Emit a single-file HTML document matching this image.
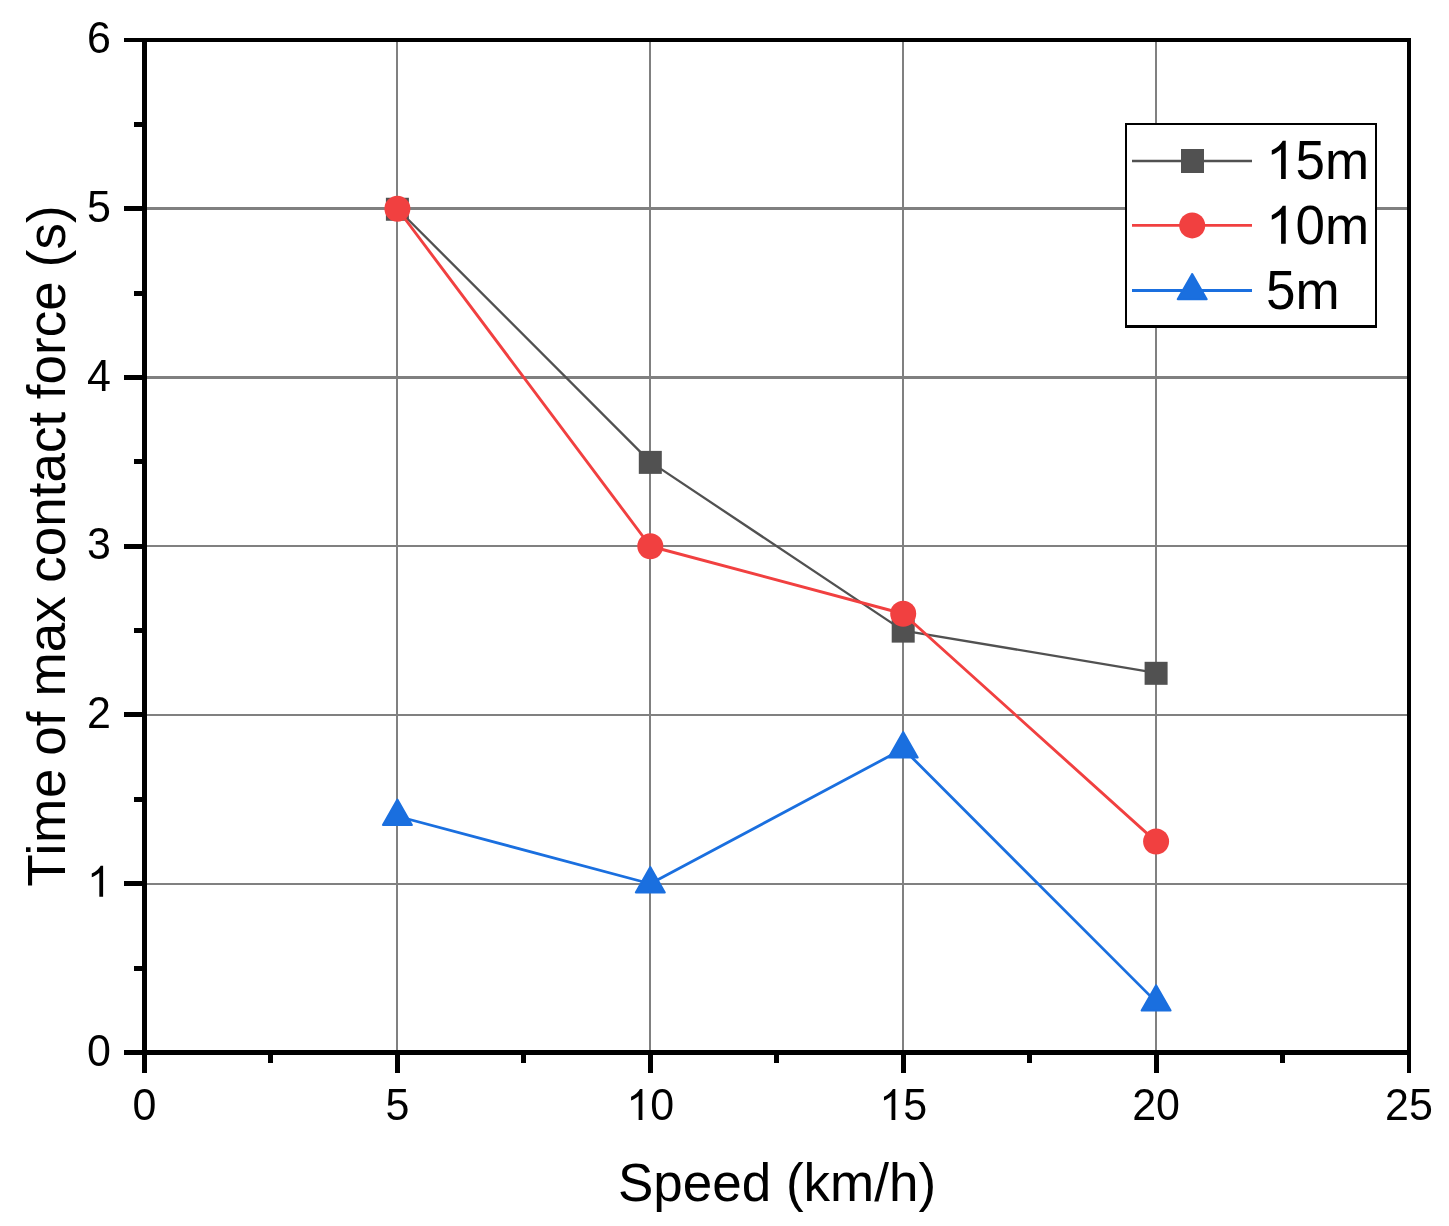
<!DOCTYPE html>
<html><head><meta charset="utf-8"><title>chart</title>
<style>html,body{margin:0;padding:0;background:#fff;}body{width:1449px;height:1226px;overflow:hidden;}svg{display:block;will-change:transform;}text{font-family:"Liberation Sans",sans-serif;fill:#000;}</style>
</head><body>
<svg width="1449" height="1226" viewBox="0 0 1449 1226">
<rect x="0" y="0" width="1449" height="1226" fill="#ffffff"/>
<g fill="#808080" shape-rendering="crispEdges">
<rect x="396" y="42" width="2" height="1008"/>
<rect x="649" y="42" width="2" height="1008"/>
<rect x="902" y="42" width="2" height="1008"/>
<rect x="1155" y="42" width="2" height="1008"/>
<rect x="147" y="207" width="1260" height="3"/>
<rect x="147" y="376" width="1260" height="3"/>
<rect x="147" y="545" width="1260" height="2"/>
<rect x="147" y="714" width="1260" height="2"/>
<rect x="147" y="883" width="1260" height="2"/>
</g>
<polyline points="397.40,208.75 650.30,461.88 903.20,630.62 1156.10,672.81" fill="none" stroke="#515151" stroke-width="2.3" stroke-linejoin="round"/>
<rect x="385.90" y="197.75" width="23" height="23" fill="#515151"/>
<rect x="638.80" y="450.88" width="23" height="23" fill="#515151"/>
<rect x="891.70" y="619.62" width="23" height="23" fill="#515151"/>
<rect x="1144.60" y="661.81" width="23" height="23" fill="#515151"/>
<polyline points="397.40,208.75 650.30,546.25 903.20,613.75 1156.10,841.56" fill="none" stroke="#F14040" stroke-width="2.9" stroke-linejoin="round"/>
<circle cx="397.40" cy="208.75" r="13" fill="#F14040"/>
<circle cx="650.30" cy="546.25" r="13" fill="#F14040"/>
<circle cx="903.20" cy="613.75" r="13" fill="#F14040"/>
<circle cx="1156.10" cy="841.56" r="13" fill="#F14040"/>
<polyline points="397.40,816.25 650.30,883.75 903.20,748.75 1156.10,1001.88" fill="none" stroke="#1A6FDF" stroke-width="2.8" stroke-linejoin="round"/>
<polygon points="397.40,799.60 382.90,824.90 411.90,824.90" fill="#1A6FDF" stroke="#1A6FDF" stroke-width="2" stroke-linejoin="round"/>
<polygon points="650.30,867.10 635.80,892.40 664.80,892.40" fill="#1A6FDF" stroke="#1A6FDF" stroke-width="2" stroke-linejoin="round"/>
<polygon points="903.20,732.10 888.70,757.40 917.70,757.40" fill="#1A6FDF" stroke="#1A6FDF" stroke-width="2" stroke-linejoin="round"/>
<polygon points="1156.10,985.23 1141.60,1010.52 1170.60,1010.52" fill="#1A6FDF" stroke="#1A6FDF" stroke-width="2" stroke-linejoin="round"/>
<g fill="#000" shape-rendering="crispEdges">
<rect x="142" y="38" width="5" height="1017"/>
<rect x="1407" y="38" width="4" height="1035"/>
<rect x="124" y="38" width="1287" height="4"/>
<rect x="124" y="1050" width="1287" height="5"/>
<rect x="142" y="1050" width="5" height="23"/>
<rect x="268" y="1050" width="5" height="13"/>
<rect x="395" y="1050" width="5" height="23"/>
<rect x="521" y="1050" width="5" height="13"/>
<rect x="648" y="1050" width="5" height="23"/>
<rect x="774" y="1050" width="5" height="13"/>
<rect x="901" y="1050" width="5" height="23"/>
<rect x="1027" y="1050" width="5" height="13"/>
<rect x="1154" y="1050" width="5" height="23"/>
<rect x="1280" y="1050" width="5" height="13"/>
<rect x="134" y="966" width="10" height="5"/>
<rect x="124" y="881" width="20" height="5"/>
<rect x="134" y="797" width="10" height="5"/>
<rect x="124" y="712" width="20" height="5"/>
<rect x="134" y="628" width="10" height="5"/>
<rect x="124" y="544" width="20" height="5"/>
<rect x="134" y="459" width="10" height="5"/>
<rect x="124" y="375" width="20" height="5"/>
<rect x="134" y="291" width="10" height="5"/>
<rect x="124" y="206" width="20" height="5"/>
<rect x="134" y="122" width="10" height="5"/>
</g>
<text transform="translate(132.54,1120.00) scale(1,1.0405)" font-size="43px">0</text>
<text transform="translate(385.44,1120.00) scale(1,1.0405)" font-size="43px">5</text>
<path transform="translate(626.39,1120.00) scale(0.020996,-0.020996)" d="M763 0H583V1147Q518 1085 412.5 1023T223 930V1104Q374 1175 487 1276T647 1472H763Z" fill="#000"/>
<text transform="translate(650.30,1120.00) scale(1,1.0405)" font-size="43px">0</text>
<path transform="translate(879.29,1120.00) scale(0.020996,-0.020996)" d="M763 0H583V1147Q518 1085 412.5 1023T223 930V1104Q374 1175 487 1276T647 1472H763Z" fill="#000"/>
<text transform="translate(903.20,1120.00) scale(1,1.0405)" font-size="43px">5</text>
<text transform="translate(1132.19,1120.00) scale(1,1.0405)" font-size="43px">20</text>
<text transform="translate(1385.09,1120.00) scale(1,1.0405)" font-size="43px">25</text>
<text transform="translate(87.09,1065.50) scale(1,1.0405)" font-size="43px">0</text>
<path transform="translate(87.09,896.75) scale(0.020996,-0.020996)" d="M763 0H583V1147Q518 1085 412.5 1023T223 930V1104Q374 1175 487 1276T647 1472H763Z" fill="#000"/>
<text transform="translate(87.09,728.00) scale(1,1.0405)" font-size="43px">2</text>
<text transform="translate(87.09,559.25) scale(1,1.0405)" font-size="43px">3</text>
<text transform="translate(87.09,390.50) scale(1,1.0405)" font-size="43px">4</text>
<text transform="translate(87.09,221.75) scale(1,1.0405)" font-size="43px">5</text>
<text transform="translate(87.09,53.00) scale(1,1.0405)" font-size="43px">6</text>
<text x="777" y="1201.4" font-size="53px" text-anchor="middle">Speed (km/h)</text>
<text transform="translate(64.5,886.80) rotate(-90)" font-size="53px" letter-spacing="0.8">Time</text>
<text transform="translate(64.5,755.80) rotate(-90)" font-size="53px">of</text>
<text transform="translate(64.5,696.40) rotate(-90)" font-size="53px">max</text>
<text transform="translate(64.5,582.70) rotate(-90)" font-size="53px">contact</text>
<text transform="translate(64.5,399.20) rotate(-90)" font-size="53px">force</text>
<text transform="translate(64.5,267.20) rotate(-90)" font-size="53px">(s)</text>
<g shape-rendering="crispEdges"><rect x="1125" y="123" width="252" height="205" fill="#000"/><rect x="1127" y="125" width="248" height="200" fill="#fff"/></g>
<line x1="1132" y1="161" x2="1252" y2="161" stroke="#515151" stroke-width="2.3"/>
<rect x="1181" y="149" width="23" height="24" fill="#515151"/>
<line x1="1132" y1="225.4" x2="1252" y2="225.4" stroke="#F14040" stroke-width="2.9"/>
<circle cx="1192.2" cy="225.4" r="13" fill="#F14040"/>
<line x1="1132" y1="290.5" x2="1252" y2="290.5" stroke="#1A6FDF" stroke-width="2.9"/>
<polygon points="1192.20,273.95 1177.70,299.25 1206.70,299.25" fill="#1A6FDF" stroke="#1A6FDF" stroke-width="2" stroke-linejoin="round"/>
<path transform="translate(1266.00,178.90) scale(0.025879,-0.025879)" d="M763 0H583V1147Q518 1085 412.5 1023T223 930V1104Q374 1175 487 1276T647 1472H763Z" fill="#000"/>
<text transform="translate(1295.48,178.90) scale(1,1.0405)" font-size="53px">5</text>
<text x="1324.95" y="178.90" font-size="53px">m</text>
<path transform="translate(1266.00,243.80) scale(0.025879,-0.025879)" d="M763 0H583V1147Q518 1085 412.5 1023T223 930V1104Q374 1175 487 1276T647 1472H763Z" fill="#000"/>
<text transform="translate(1295.48,243.80) scale(1,1.0405)" font-size="53px">0</text>
<text x="1324.95" y="243.80" font-size="53px">m</text>
<text transform="translate(1266.00,308.70) scale(1,1.0405)" font-size="53px">5</text>
<text x="1295.48" y="308.70" font-size="53px">m</text>
</svg>
</body></html>
